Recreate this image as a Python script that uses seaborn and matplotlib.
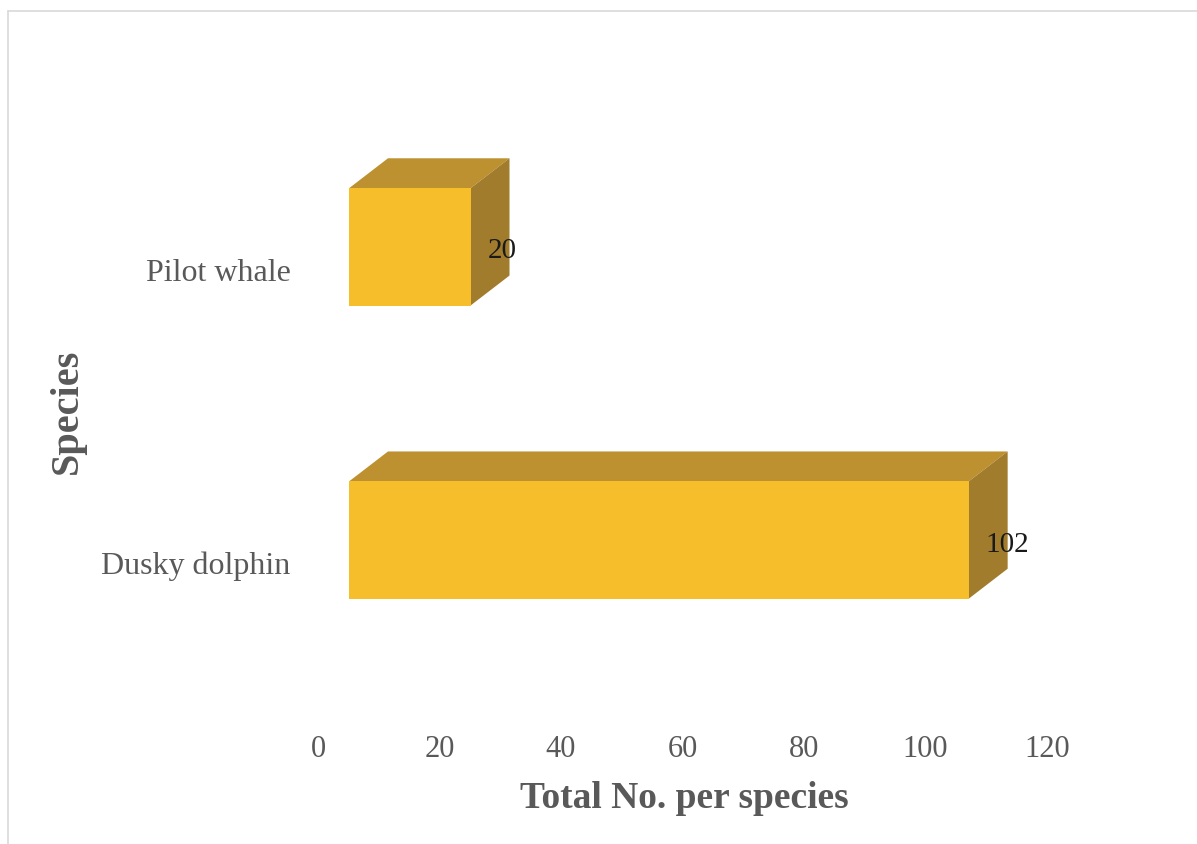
import matplotlib
matplotlib.use("Agg")
import matplotlib.pyplot as plt
import seaborn as sns
import pandas as pd
from matplotlib.patches import Polygon
from matplotlib.transforms import ScaledTranslation
from matplotlib.lines import Line2D

# Data
species = ["Pilot whale", "Dusky dolphin"]
counts = [20, 102]
x_ticks = [0, 20, 40, 60, 80, 100, 120]

FRONT = "#F6BE2B"
TOP = "#BD9030"
SIDE = "#A17C2C"
GRAY = "#595959"

sns.set_theme(style="white")
plt.rcParams["font.family"] = ["Liberation Serif", "DejaVu Serif"]

W, H = 1197, 845
fig = plt.figure(figsize=(W / 100, H / 100), dpi=100)
ax_left, ax_right, ax_top, ax_bottom = 349, 1078, 72, 717
ax = fig.add_axes([ax_left / W, 1 - ax_bottom / H,
                   (ax_right - ax_left) / W, (ax_bottom - ax_top) / H])

df = pd.DataFrame({"Species": species, "Total": counts})
sns.barplot(data=df, x="Total", y="Species", orient="h", width=0.4,
            color=FRONT, saturation=1, linewidth=0, ax=ax)

xmin, xmax = 0, 120
ymin, ymax = 1.6, -0.6
ax.set_xlim(xmin, xmax)
ax.set_ylim(ymin, ymax)

# 3-D depth offset (pixels converted to data units)
px_per_x = (ax_right - ax_left) / (xmax - xmin)
px_per_y = (ax_bottom - ax_top) / (ymin - ymax)
dx = 39 / px_per_x
dy = 30 / px_per_y

for patch in list(ax.patches):
    x0, y0 = patch.get_x(), patch.get_y()
    w, h = patch.get_width(), patch.get_height()
    top = Polygon([(x0, y0), (x0 + w, y0), (x0 + w + dx, y0 - dy), (x0 + dx, y0 - dy)],
                  closed=True, facecolor=TOP, edgecolor="none", clip_on=False, zorder=1)
    side = Polygon([(x0 + w, y0), (x0 + w + dx, y0 - dy), (x0 + w + dx, y0 + h - dy), (x0 + w, y0 + h)],
                   closed=True, facecolor=SIDE, edgecolor="none", clip_on=False, zorder=1)
    ax.add_patch(top)
    ax.add_patch(side)
    patch.set_zorder(2)

for i, v in enumerate(counts):
    ax.text(v + 2.8, i + 0.012, str(v), ha="left", va="center", fontsize=21,
            color="#1A1A1A", zorder=3)

for s in ax.spines.values():
    s.set_visible(False)
ax.grid(False)

ax.set_xticks(x_ticks)
ax.set_xticklabels([str(t) for t in x_ticks])
ax.tick_params(axis="x", length=0, pad=13, labelsize=22, labelcolor=GRAY)
ax.tick_params(axis="y", length=0, pad=42, labelsize=23, labelcolor=GRAY)
for lbl in ax.get_xticklabels():
    lbl.set_transform(lbl.get_transform() + ScaledTranslation(-0.31, 0, fig.dpi_scale_trans))
for lbl in ax.get_yticklabels():
    lbl.set_transform(lbl.get_transform() + ScaledTranslation(0, -0.22, fig.dpi_scale_trans))

ax.set_xlabel("")
ax.set_ylabel("")
fig.text(684 / W, 1 - 799 / H, "Total No. per species", ha="center", va="center",
         fontsize=27, fontweight="bold", color=GRAY)
fig.text(67 / W, 1 - 411 / H, "Species", ha="center", va="center", rotation=90,
         fontsize=29, fontweight="bold", color=GRAY)

# Chart-area border (top and left edges)
fig.add_artist(Line2D([7.5 / W, 7.5 / W], [0, 1 - 11.5 / H], color="#D9D9D9", lw=1.2))
fig.add_artist(Line2D([7.5 / W, 1], [1 - 11.5 / H, 1 - 11.5 / H], color="#D9D9D9", lw=1.2))

fig.savefig("out.png", dpi=100)
